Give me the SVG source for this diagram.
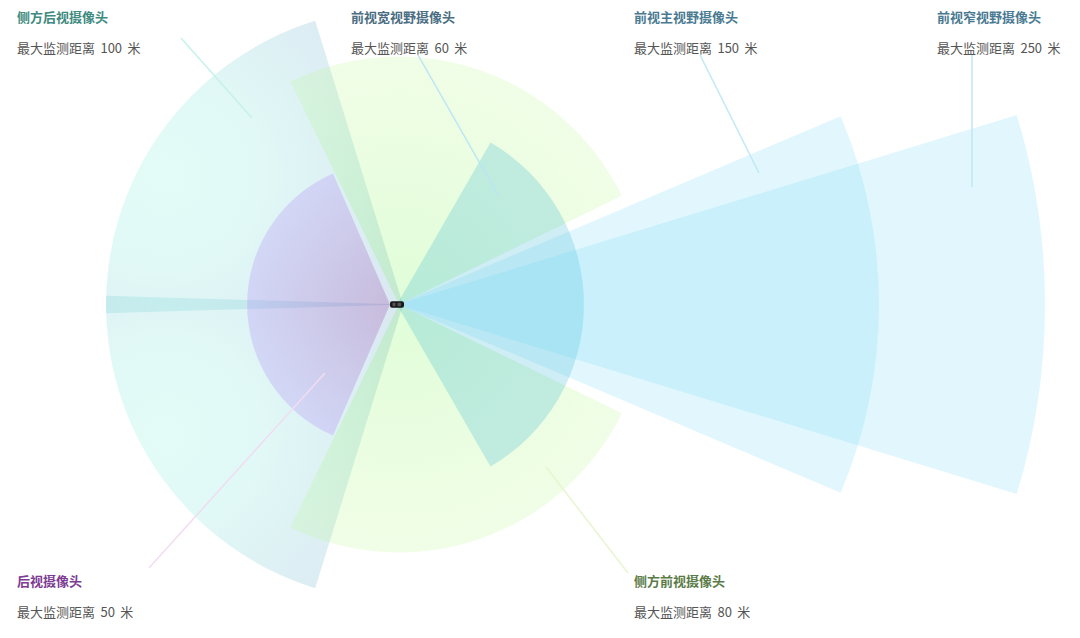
<svg xmlns="http://www.w3.org/2000/svg" width="1080" height="638" viewBox="0 0 1080 638">
  <defs>
    <radialGradient id="gRearU" gradientUnits="userSpaceOnUse" cx="165" cy="175" r="255">
      <stop offset="0" stop-color="rgb(115,240,215)"/>
      <stop offset="0.35" stop-color="rgb(105,225,212)"/>
      <stop offset="1" stop-color="rgb(70,140,190)"/>
    </radialGradient>
    <radialGradient id="gRearL" gradientUnits="userSpaceOnUse" cx="165" cy="434" r="255">
      <stop offset="0" stop-color="rgb(115,240,215)"/>
      <stop offset="0.35" stop-color="rgb(105,225,212)"/>
      <stop offset="1" stop-color="rgb(70,140,190)"/>
    </radialGradient>
    <radialGradient id="gFront" gradientUnits="userSpaceOnUse" cx="399" cy="304.5" r="248">
      <stop offset="0" stop-color="rgb(100,245,60)"/>
      <stop offset="1" stop-color="rgb(185,248,135)"/>
    </radialGradient>
    <radialGradient id="gBack" gradientUnits="userSpaceOnUse" cx="390" cy="304.5" r="143">
      <stop offset="0" stop-color="rgb(158,85,170)"/>
      <stop offset="1" stop-color="rgb(180,145,247)"/>
    </radialGradient>
  </defs>
  <style>
    .sec { stroke: none; }
    .rearU { fill: url(#gRearU); fill-opacity: 0.2; }
    .rearL { fill: url(#gRearL); fill-opacity: 0.2; }
    .sfront { fill: url(#gFront); fill-opacity: 0.2; }
    .back { fill: url(#gBack); fill-opacity: 0.3; }
    .wide { fill: rgb(58,185,210); fill-opacity: 0.25; }
    .fwd { fill: rgb(105,215,245); fill-opacity: 0.2; }
    .title { font-family: "Noto Sans CJK SC", "Noto Sans", sans-serif; font-size: 13px; font-weight: bold; }
    .sub { font-family: "Noto Sans CJK SC", "Noto Sans", sans-serif; font-size: 13px; fill: #555555; word-spacing: 2.5px; }
    .lead { fill: none; stroke-width: 1.5; }
  </style>
  <rect width="1080" height="638" fill="#ffffff"/>

  <g id="side-rear-camera">
    <path class="sec rearU" d="M403,304.5 L315.2,20.8 A297,297 0 0 0 106.1,313.3 Z"/>
    <path class="sec rearL" d="M403,304.5 L106.1,295.7 A297,297 0 0 0 315.2,588.2 Z"/>
    <text class="title" x="17" y="21.5" fill="#3e8a7e">侧方后视摄像头</text>
    <text class="sub" x="17" y="52.5">最大监测距离 100 米</text>
  </g>

  <g id="side-front-camera">
    <path class="sec sfront" d="M399,304.5 L290.3,81.6 A248,248 0 0 1 621.9,195.8 Z"/>
    <path class="sec sfront" d="M399,304.5 L621.9,413.2 A248,248 0 0 1 290.3,527.4 Z"/>
    <text class="title" x="634" y="585.5" fill="#5b7b46">侧方前视摄像头</text>
    <text class="sub" x="634" y="616.5">最大监测距离 80 米</text>
  </g>

  <g id="rear-camera">
    <path class="sec back" d="M390,304.5 L333,173.4 A143,143 0 0 0 333,435.6 Z"/>
    <text class="title" x="17" y="585.5" fill="#7d3c91">后视摄像头</text>
    <text class="sub" x="17" y="616.5">最大监测距离 50 米</text>
  </g>

  <g id="front-wide-camera">
    <path class="sec wide" d="M397,304.5 L490.5,142.6 A187,187 0 0 1 490.5,466.4 Z"/>
    <text class="title" x="351" y="21.5" fill="#4a6d82">前视宽视野摄像头</text>
    <text class="sub" x="351" y="52.5">最大监测距离 60 米</text>
  </g>

  <g id="front-main-camera">
    <path class="sec fwd" d="M397,304.5 L840.7,116.2 A482,482 0 0 1 840.7,492.8 Z"/>
    <text class="title" x="634" y="21.5" fill="#4a7a92">前视主视野摄像头</text>
    <text class="sub" x="634" y="52.5">最大监测距离 150 米</text>
  </g>

  <g id="front-narrow-camera">
    <path class="sec fwd" d="M397,304.5 L1016.7,115 A648,648 0 0 1 1016.7,494 Z"/>
    <text class="title" x="937" y="21.5" fill="#4a7a92">前视窄视野摄像头</text>
    <text class="sub" x="937" y="52.5">最大监测距离 250 米</text>
  </g>

  <g id="car">
    <rect x="390" y="301.3" width="14" height="6.4" rx="2" fill="#1a1a1a"/>
    <rect x="392.5" y="302.7" width="3" height="3.6" rx="0.8" fill="#555555"/>
    <rect x="397.5" y="302.7" width="3.6" height="3.6" rx="0.8" fill="#555555"/>
  </g>

  <g id="connectors">
    <line class="lead" x1="181" y1="38" x2="252" y2="118" stroke="#c5f3ea"/>
    <line class="lead" x1="418" y1="55" x2="498" y2="195" stroke="#b8e6f5"/>
    <line class="lead" x1="700" y1="55" x2="759" y2="173" stroke="#bfe9f7"/>
    <line class="lead" x1="972" y1="55" x2="972" y2="187" stroke="#bde7f5"/>
    <line class="lead" x1="325" y1="373" x2="149" y2="568" stroke="#f2dcf2"/>
    <line class="lead" x1="546" y1="467" x2="628" y2="573" stroke="#e8f5cf"/>
  </g>
</svg>
